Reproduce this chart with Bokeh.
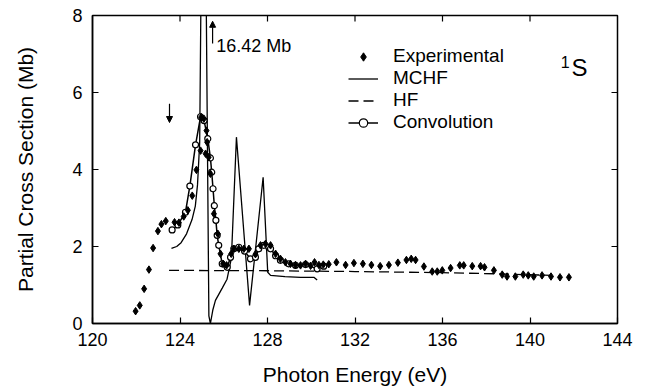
import math
from bokeh.plotting import figure
from bokeh.models import Legend, LegendItem, Label, Arrow, NormalHead, FixedTicker, Range1d
from bokeh.embed import file_html
from bokeh.resources import INLINE

FONT = "Liberation Sans"

# ---- data ----
exp_x = [121.97, 122.16, 122.36, 122.58, 122.77, 122.99, 123.15, 123.35, 123.75, 123.95,
         124.17, 124.36, 124.56, 124.75, 124.94, 124.97, 125.09, 125.17, 125.21, 125.24,
         125.31, 125.39, 125.55, 125.73, 125.85, 125.97, 126.13, 126.34, 126.46, 126.69,
         126.92, 127.15, 127.45, 127.68, 127.91, 128.14, 128.37, 128.59, 128.82, 129.05,
         129.28, 129.51, 129.74, 129.97, 130.15, 130.35, 130.55, 130.80, 131.15, 131.57,
         131.95, 132.36, 132.75, 133.15, 133.55, 133.96, 134.35, 134.57, 134.77, 135.15,
         135.53, 135.76, 135.99, 136.37, 136.79, 136.97, 137.36, 137.74, 137.92, 138.35,
         138.73, 138.95, 139.33, 139.69, 139.92, 140.17, 140.55, 140.96, 141.37, 141.78]
exp_y = [0.32, 0.47, 0.90, 1.40, 1.96, 2.40, 2.58, 2.66, 2.63, 2.62,
         2.78, 2.94, 3.32, 3.99, 4.49, 5.36, 5.32, 4.41, 5.01, 4.71,
         4.32, 3.89, 2.85, 2.33, 1.81, 1.55, 1.51, 1.81, 1.94, 1.94,
         1.94, 1.94, 1.80, 2.03, 2.07, 2.03, 1.81, 1.68, 1.59, 1.55,
         1.52, 1.51, 1.55, 1.50, 1.59, 1.52, 1.53, 1.54, 1.59, 1.52,
         1.57, 1.55, 1.52, 1.49, 1.52, 1.58, 1.65, 1.68, 1.65, 1.48,
         1.35, 1.35, 1.38, 1.44, 1.51, 1.51, 1.49, 1.49, 1.46, 1.38,
         1.27, 1.22, 1.22, 1.27, 1.25, 1.22, 1.25, 1.22, 1.20, 1.20]

mchf_x = [123.61, 123.85, 124.05, 124.30, 124.55, 124.70, 124.80, 124.90, 125.08, 125.32,
          125.39, 125.50, 125.62, 125.93, 126.15, 126.35, 126.58, 127.18, 127.80, 128.01,
          128.14, 128.80, 129.51, 130.12, 130.27]
mchf_y = [1.95, 2.00, 2.10, 2.33, 2.70, 3.05, 3.60, 4.70, 16.42, 0.20,
          0.00, 0.35, 0.60, 0.92, 1.15, 1.70, 4.84, 0.47, 3.80, 1.33,
          1.25, 1.22, 1.20, 1.20, 1.13]

hf_x = [123.5, 128.0, 132.0, 136.0, 138.5, 141.0]
hf_y = [1.38, 1.37, 1.35, 1.32, 1.29, 1.25]

conv_x = [123.64, 123.90, 124.25, 124.45, 124.71, 124.94, 125.10, 125.27, 125.39, 125.45,
          125.51, 125.57, 125.64, 125.70, 125.77, 125.93, 126.16, 126.31, 126.46, 126.69,
          126.95, 127.22, 127.45, 127.60, 127.83, 128.06, 128.14, 128.37, 128.59, 128.97,
          129.28, 129.74, 130.27, 130.57]
conv_y = [2.43, 2.56, 2.89, 3.57, 4.64, 5.37, 5.27, 4.80, 4.30, 3.93,
          3.50, 3.06, 2.68, 2.29, 2.03, 1.55, 1.46, 1.72, 1.94, 1.98,
          1.88, 1.68, 1.72, 1.94, 2.03, 1.98, 1.94, 1.76, 1.64, 1.55,
          1.51, 1.53, 1.42, 1.49]

x_ticks = [120, 124, 128, 132, 136, 140, 144]
y_ticks = [0, 2, 4, 6, 8]
X_MIN, X_MAX, Y_MIN, Y_MAX = 120, 144, 0, 8

# annotation positions (data units)
down_arrow = (123.52, 5.71, 123.52, 5.22)
up_arrow = (125.49, 7.27, 125.49, 7.85)
peak_label = (125.66, 7.22, "16.42 Mb")
term_sup = (141.40, 6.78, "1")
term_main = (141.90, 6.65, "S")

p = figure(width=646, height=389, output_backend="svg", toolbar_location=None,
           x_range=Range1d(X_MIN, X_MAX), y_range=Range1d(Y_MIN, Y_MAX),
           min_border_left=92, min_border_right=29, min_border_top=15, min_border_bottom=66)
p.grid.visible = False
p.background_fill_color = "white"
p.border_fill_color = "white"
p.outline_line_color = "black"
p.outline_line_width = 1.5

p.xaxis.ticker = FixedTicker(ticks=x_ticks)
p.yaxis.ticker = FixedTicker(ticks=y_ticks)
for ax in (p.xaxis[0], p.yaxis[0]):
    ax.major_tick_in = 6
    ax.major_tick_out = 0
    ax.minor_tick_line_color = None
    ax.axis_line_width = 1.5
    ax.major_tick_line_width = 1.2
    ax.major_label_text_font = FONT
    ax.major_label_text_font_size = "18px"
    ax.major_label_text_color = "black"
    ax.axis_label_text_font = FONT
    ax.axis_label_text_font_size = "21px"
    ax.axis_label_text_font_style = "normal"
    ax.axis_label_text_color = "black"

p.xaxis.axis_label = "Photon Energy (eV)"
p.yaxis.axis_label = "Partial Cross Section (Mb)"
p.xaxis.major_label_standoff = 9
p.yaxis.major_label_standoff = 10
p.xaxis.axis_label_standoff = 14
p.yaxis.axis_label_standoff = 32

# inward ticks on top and right frame edges
p.ray(x=x_ticks[1:-1], y=[Y_MAX] * (len(x_ticks) - 2), length=6, angle=-math.pi / 2,
      length_units="screen", line_color="black", line_width=1.2)
p.ray(x=[X_MAX] * (len(y_ticks) - 2), y=y_ticks[1:-1], length=6, angle=math.pi,
      length_units="screen", line_color="black", line_width=1.2)

r_hf = p.line(hf_x, hf_y, line_color="black", line_width=1.3, line_dash="10 5")
r_mchf = p.line(mchf_x, mchf_y, line_color="black", line_width=1.3)
r_conv_line = p.line(conv_x, conv_y, line_color="black", line_width=1.5)
r_conv_pts = p.scatter(conv_x, conv_y, marker="circle", size=6, fill_color="white",
                       line_color="black", line_width=1.2)
r_exp = p.scatter(exp_x, exp_y, marker="diamond", size=7.5, fill_color="black",
                  line_color="black")

legend = Legend(items=[
    LegendItem(label="Experimental", renderers=[r_exp]),
    LegendItem(label="MCHF", renderers=[r_mchf]),
    LegendItem(label="HF", renderers=[r_hf]),
    LegendItem(label="Convolution", renderers=[r_conv_line, r_conv_pts]),
], location=(256, 190), padding=0, margin=0, spacing=0, border_line_color=None,
   background_fill_alpha=0, glyph_width=30, glyph_height=21, label_height=21,
   label_standoff=15, label_text_font=FONT, label_text_font_size="19px",
   label_text_color="black")
p.add_layout(legend)

for (xs, ys, xe, ye) in (down_arrow, up_arrow):
    p.add_layout(Arrow(end=NormalHead(size=6, fill_color="black", line_color="black"),
                       x_start=xs, y_start=ys, x_end=xe, y_end=ye,
                       line_color="black", line_width=1.2))

p.add_layout(Label(x=peak_label[0], y=peak_label[1], text=peak_label[2], text_color="black",
                   text_font=FONT, text_font_size="18px", text_baseline="alphabetic"))
p.add_layout(Label(x=term_sup[0], y=term_sup[1], text=term_sup[2], text_color="black",
                   text_font=FONT, text_font_size="16px", text_baseline="alphabetic"))
p.add_layout(Label(x=term_main[0], y=term_main[1], text=term_main[2], text_color="black",
                   text_font=FONT, text_font_size="24px", text_baseline="alphabetic"))

open("out.html", "w").write(file_html(p, INLINE))
